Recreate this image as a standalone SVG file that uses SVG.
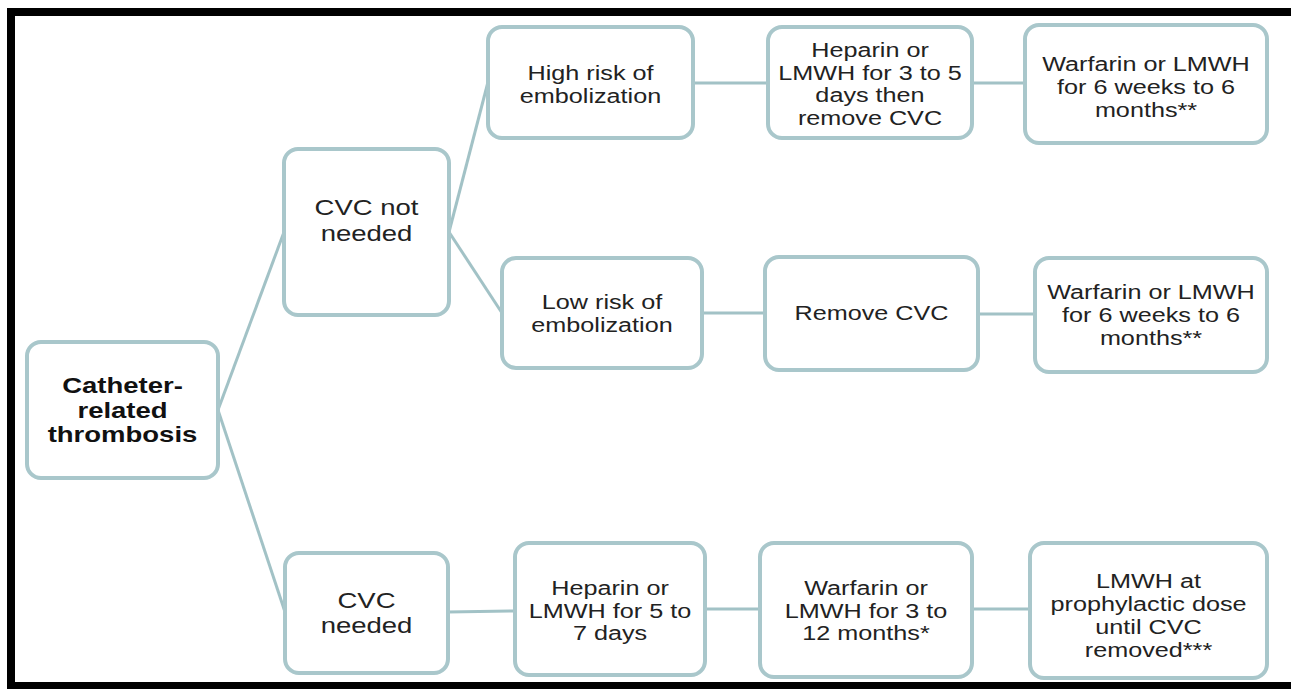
<svg xmlns="http://www.w3.org/2000/svg" width="1291" height="689" viewBox="0 0 1291 689">
<style>
.box{fill:#ffffff;stroke:#a9c7cb;stroke-width:4}
.t{font-family:"Liberation Sans",Arial,sans-serif;font-size:21px;fill:#222222;text-anchor:middle}
.tl{font-family:"Liberation Sans",Arial,sans-serif;font-size:22px;fill:#222222;text-anchor:middle}
.tb{font-family:"Liberation Sans",Arial,sans-serif;font-size:22px;font-weight:bold;fill:#111111;text-anchor:middle}
.c{stroke:#a2c2c6;stroke-width:3;fill:none}
</style>
<rect x="0" y="0" width="1291" height="689" fill="#ffffff"/>
<g id="frame" fill="#000000">
<rect x="7" y="8" width="1284" height="8"/>
<rect x="7" y="8" width="8" height="681"/>
<rect x="7" y="682" width="1284" height="7"/>
</g>
<g id="connectors">
<line class="c" x1="218" y1="410" x2="284" y2="232"/>
<line class="c" x1="218" y1="410" x2="285" y2="612"/>
<line class="c" x1="449" y1="232" x2="488" y2="82"/>
<line class="c" x1="449" y1="232" x2="502" y2="313"/>
<line class="c" x1="693" y1="83" x2="768" y2="83"/>
<line class="c" x1="972" y1="83" x2="1025" y2="83"/>
<line class="c" x1="702" y1="313" x2="765" y2="313"/>
<line class="c" x1="978" y1="314" x2="1035" y2="314"/>
<line class="c" x1="448" y1="612" x2="515" y2="611"/>
<line class="c" x1="705" y1="609" x2="760" y2="609"/>
<line class="c" x1="972" y1="609" x2="1030" y2="609"/>
</g>
<g id="root">
<rect class="box" x="27" y="342" width="191" height="136" rx="14"/>
<g transform="translate(122.5,0) scale(1.25,1)"><text class="tb"><tspan x="0" y="393">Catheter-</tspan><tspan x="0" y="418">related</tspan><tspan x="0" y="442">thrombosis</tspan></text></g>
</g>
<g id="cvc-not-needed">
<rect class="box" x="284" y="149" width="165" height="166" rx="14"/>
<g transform="translate(366.5,0) scale(1.25,1)"><text class="tl"><tspan x="0" y="215">CVC not</tspan><tspan x="0" y="241">needed</tspan></text></g>
</g>
<g id="cvc-needed">
<rect class="box" x="285" y="553" width="163" height="120" rx="14"/>
<g transform="translate(366.5,0) scale(1.25,1)"><text class="tl"><tspan x="0" y="608">CVC</tspan><tspan x="0" y="633">needed</tspan></text></g>
</g>
<g id="high-risk">
<rect class="box" x="488" y="27" width="205" height="111" rx="14"/>
<g transform="translate(590.5,0) scale(1.2,1)"><text class="t"><tspan x="0" y="80">High risk of</tspan><tspan x="0" y="103">embolization</tspan></text></g>
</g>
<g id="low-risk">
<rect class="box" x="502" y="258" width="200" height="110" rx="14"/>
<g transform="translate(602,0) scale(1.2,1)"><text class="t"><tspan x="0" y="309">Low risk of</tspan><tspan x="0" y="332">embolization</tspan></text></g>
</g>
<g id="heparin-3-5">
<rect class="box" x="768" y="27" width="204" height="111" rx="14"/>
<g transform="translate(870,0) scale(1.2,1)"><text class="t"><tspan x="0" y="57">Heparin or</tspan><tspan x="0" y="80">LMWH for 3 to 5</tspan><tspan x="0" y="102">days then</tspan><tspan x="0" y="125">remove CVC</tspan></text></g>
</g>
<g id="remove-cvc">
<rect class="box" x="765" y="257" width="213" height="113" rx="14"/>
<g transform="translate(871.5,0) scale(1.2,1)"><text class="t"><tspan x="0" y="320">Remove CVC</tspan></text></g>
</g>
<g id="warfarin-top">
<rect class="box" x="1025" y="25" width="242" height="118" rx="14"/>
<g transform="translate(1146,0) scale(1.2,1)"><text class="t"><tspan x="0" y="71">Warfarin or LMWH</tspan><tspan x="0" y="94">for 6 weeks to 6</tspan><tspan x="0" y="117">months**</tspan></text></g>
</g>
<g id="warfarin-mid">
<rect class="box" x="1035" y="258" width="232" height="114" rx="14"/>
<g transform="translate(1151,0) scale(1.2,1)"><text class="t"><tspan x="0" y="299">Warfarin or LMWH</tspan><tspan x="0" y="322">for 6 weeks to 6</tspan><tspan x="0" y="345">months**</tspan></text></g>
</g>
<g id="heparin-5-7">
<rect class="box" x="515" y="543" width="190" height="132" rx="14"/>
<g transform="translate(610,0) scale(1.2,1)"><text class="t"><tspan x="0" y="595">Heparin or</tspan><tspan x="0" y="618">LMWH for 5 to</tspan><tspan x="0" y="640">7 days</tspan></text></g>
</g>
<g id="warfarin-3-12">
<rect class="box" x="760" y="543" width="212" height="134" rx="14"/>
<g transform="translate(866,0) scale(1.2,1)"><text class="t"><tspan x="0" y="595">Warfarin or</tspan><tspan x="0" y="618">LMWH for 3 to</tspan><tspan x="0" y="640">12 months*</tspan></text></g>
</g>
<g id="lmwh-prophylactic">
<rect class="box" x="1030" y="543" width="237" height="135" rx="14"/>
<g transform="translate(1148.5,0) scale(1.2,1)"><text class="t"><tspan x="0" y="588">LMWH at</tspan><tspan x="0" y="611">prophylactic dose</tspan><tspan x="0" y="634">until CVC</tspan><tspan x="0" y="657">removed***</tspan></text></g>
</g>
</svg>
